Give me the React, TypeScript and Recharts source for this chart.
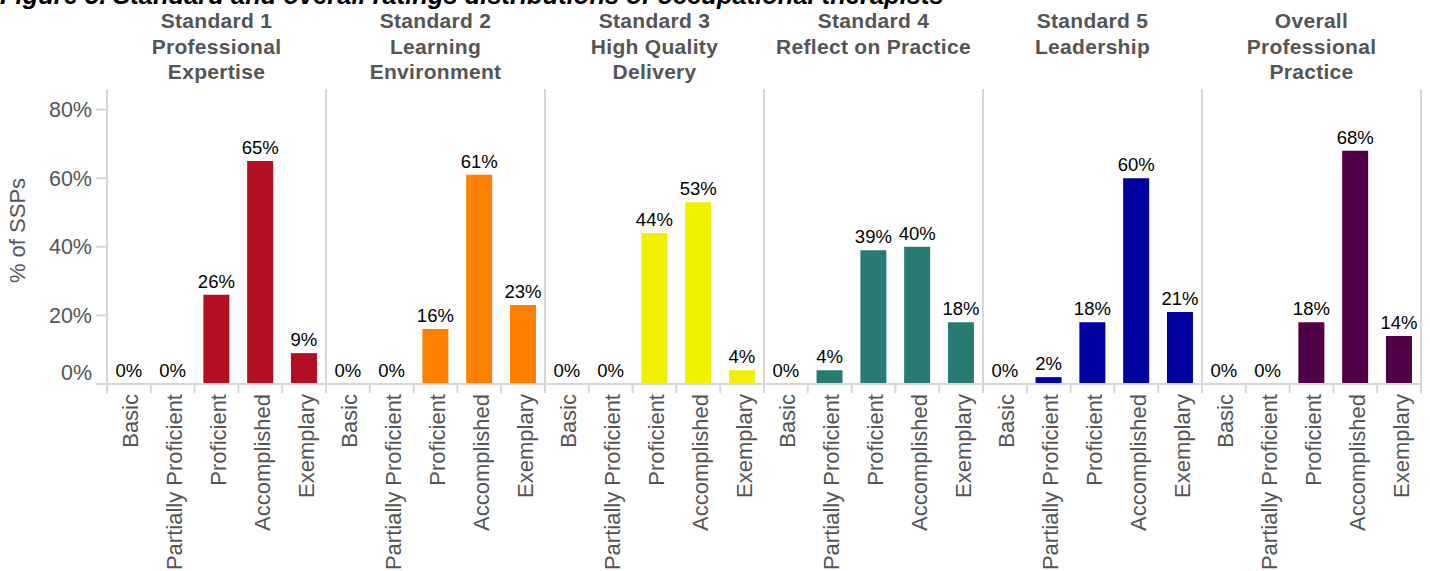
import React from "react"
import {
  BarChart,
  Bar,
  Cell,
  XAxis,
  YAxis,
  CartesianGrid,
  ReferenceLine,
  LabelList,
} from "recharts"

const LEVELS = ["Basic", "Partially Proficient", "Proficient", "Accomplished", "Exemplary"]

const PANELS = ["Standard 1", "Standard 2", "Standard 3", "Standard 4", "Standard 5", "Overall"]

const HEADERS = [
  ["Standard 1", "Professional", "Expertise"],
  ["Standard 2", "Learning", "Environment"],
  ["Standard 3", "High Quality", "Delivery"],
  ["Standard 4", "Reflect on Practice"],
  ["Standard 5", "Leadership"],
  ["Overall", "Professional", "Practice"],
]

const standard1 = [0, 0, 26, 65, 9]
const standard2 = [0, 0, 16, 61, 23]
const standard3 = [0, 0, 44, 53, 4]
const standard4 = [0, 4, 39, 40, 18]
const standard5 = [0, 2, 18, 60, 21]
const overall = [0, 0, 18, 68, 14]

const Y_TICKS = [0, 20, 40, 60, 80]

const SERIES = [standard1, standard2, standard3, standard4, standard5, overall]
const COLORS = ["#B20F22", "#FF7F00", "#F0F000", "#287A75", "#0000A0", "#500048"]

const rows = PANELS.flatMap((panel, p) =>
  LEVELS.map((level, i) => ({
    key: `${panel}|${level}`,
    value: SERIES[p][i],
    panel: p,
  }))
)

// layout
const W = 1430
const H = 571
const M_TOP = 4
const M_RIGHT = 9
const TOP_AXIS_H = 85
const Y_AXIS_W = 107
const BOTTOM_AXIS_H = 187
const PLOT_BOTTOM = H - BOTTOM_AXIS_H
const BAND = (W - M_RIGHT - Y_AXIS_W) / rows.length

const GRID = "#d6d6d6"
const TEXT = "#555555"
const FONT = "'Liberation Sans', Arial, sans-serif"

function LevelTick(props: any) {
  const { x, payload, index } = props
  const level = String(payload.value).split("|")[1]
  const half = BAND / 2
  return (
    <g>
      <line x1={x - half} x2={x - half} y1={PLOT_BOTTOM} y2={PLOT_BOTTOM + 9} stroke={GRID} strokeWidth={2} />
      {index === rows.length - 1 && (
        <line x1={x + half} x2={x + half} y1={PLOT_BOTTOM} y2={PLOT_BOTTOM + 9} stroke={GRID} strokeWidth={2} />
      )}
      <text
        transform={`translate(${x + 9.5},${PLOT_BOTTOM + 10}) rotate(-90)`}
        textAnchor="end"
        fontSize={22}
        fontFamily={FONT}
        fill={TEXT}
      >
        {level}
      </text>
    </g>
  )
}

function HeaderTick(props: any) {
  const { x, index } = props
  if (index % LEVELS.length !== 2) return null
  const lines = HEADERS[Math.floor(index / LEVELS.length)]
  return (
    <text
      x={x}
      y={28}
      textAnchor="middle"
      fontSize={21}
      fontWeight="bold"
      letterSpacing={0.3}
      fontFamily={FONT}
      fill={TEXT}
    >
      {lines.map((l, i) => (
        <tspan key={i} x={x} dy={i === 0 ? 0 : 25.5}>
          {l}
        </tspan>
      ))}
    </text>
  )
}

function PctTick(props: any) {
  const { x, y, payload } = props
  const shift = payload.value === 0 ? -12 : 0
  return (
    <text x={x - 2} y={y + shift} dy="0.355em" textAnchor="end" fontSize={21.5} fontFamily={FONT} fill={TEXT}>
      {`${payload.value}%`}
    </text>
  )
}

export default function App() {
  return (
    <div style={{ position: "absolute", left: 0, top: 0, width: W, height: H, background: "#fff", overflow: "hidden" }}>
      <div
        style={{
          position: "absolute",
          left: 0,
          top: -20.5,
          width: 937,
          textAlign: "right",
          fontFamily: FONT,
          fontWeight: "bold",
          fontStyle: "italic",
          fontSize: 25.5,
          lineHeight: "30px",
          whiteSpace: "nowrap",
          color: "#000",
        }}
      >
        Figure 5. Standard and overall ratings distributions of occupational therapists
      </div>
      <BarChart
        width={W}
        height={H}
        data={rows}
        margin={{ top: M_TOP, right: M_RIGHT, left: 0, bottom: 0 }}
        barCategoryGap="20%"
      >
        <CartesianGrid
          horizontal={false}
          vertical
          stroke={GRID}
          strokeWidth={2}
          verticalCoordinatesGenerator={({ offset }: any) =>
            PANELS.map((_, i) => offset.left + (offset.width * i) / PANELS.length).concat(offset.left + offset.width)
          }
        />
        <XAxis
          xAxisId="top"
          orientation="top"
          dataKey="key"
          height={TOP_AXIS_H}
          axisLine={false}
          tickLine={false}
          interval={0}
          tick={<HeaderTick />}
        />
        <XAxis
          dataKey="key"
          height={BOTTOM_AXIS_H}
          axisLine={false}
          tickLine={false}
          interval={0}
          tick={<LevelTick />}
        />
        <YAxis
          width={Y_AXIS_W}
          domain={[0, 86]}
          ticks={Y_TICKS}
          allowDataOverflow
          axisLine={false}
          tickSize={11}
          tickLine={{ stroke: GRID, strokeWidth: 2 }}
          tick={<PctTick />}
          label={{
            content: ({ viewBox }: any) => {
              const cx = 25
              const cy = viewBox.y + viewBox.height / 2 - 6
              return (
                <text
                  transform={`translate(${cx},${cy}) rotate(-90)`}
                  textAnchor="middle"
                  fontSize={22}
                  fontFamily={FONT}
                  fill={TEXT}
                >
                  % of SSPs
                </text>
              )
            },
          }}
        />
        <ReferenceLine y={0} stroke={GRID} strokeWidth={2} />
        <Bar dataKey="value" minPointSize={0.01} isAnimationActive={false}>
          {rows.map((r, i) => (
            <Cell key={i} fill={COLORS[r.panel]} />
          ))}
          <LabelList
            dataKey="value"
            position="top"
            offset={7}
            formatter={(v: any) => `${v}%`}
            fill="#000"
            fontSize={18.5}
            fontFamily={FONT}
          />
        </Bar>
      </BarChart>
    </div>
  )
}
